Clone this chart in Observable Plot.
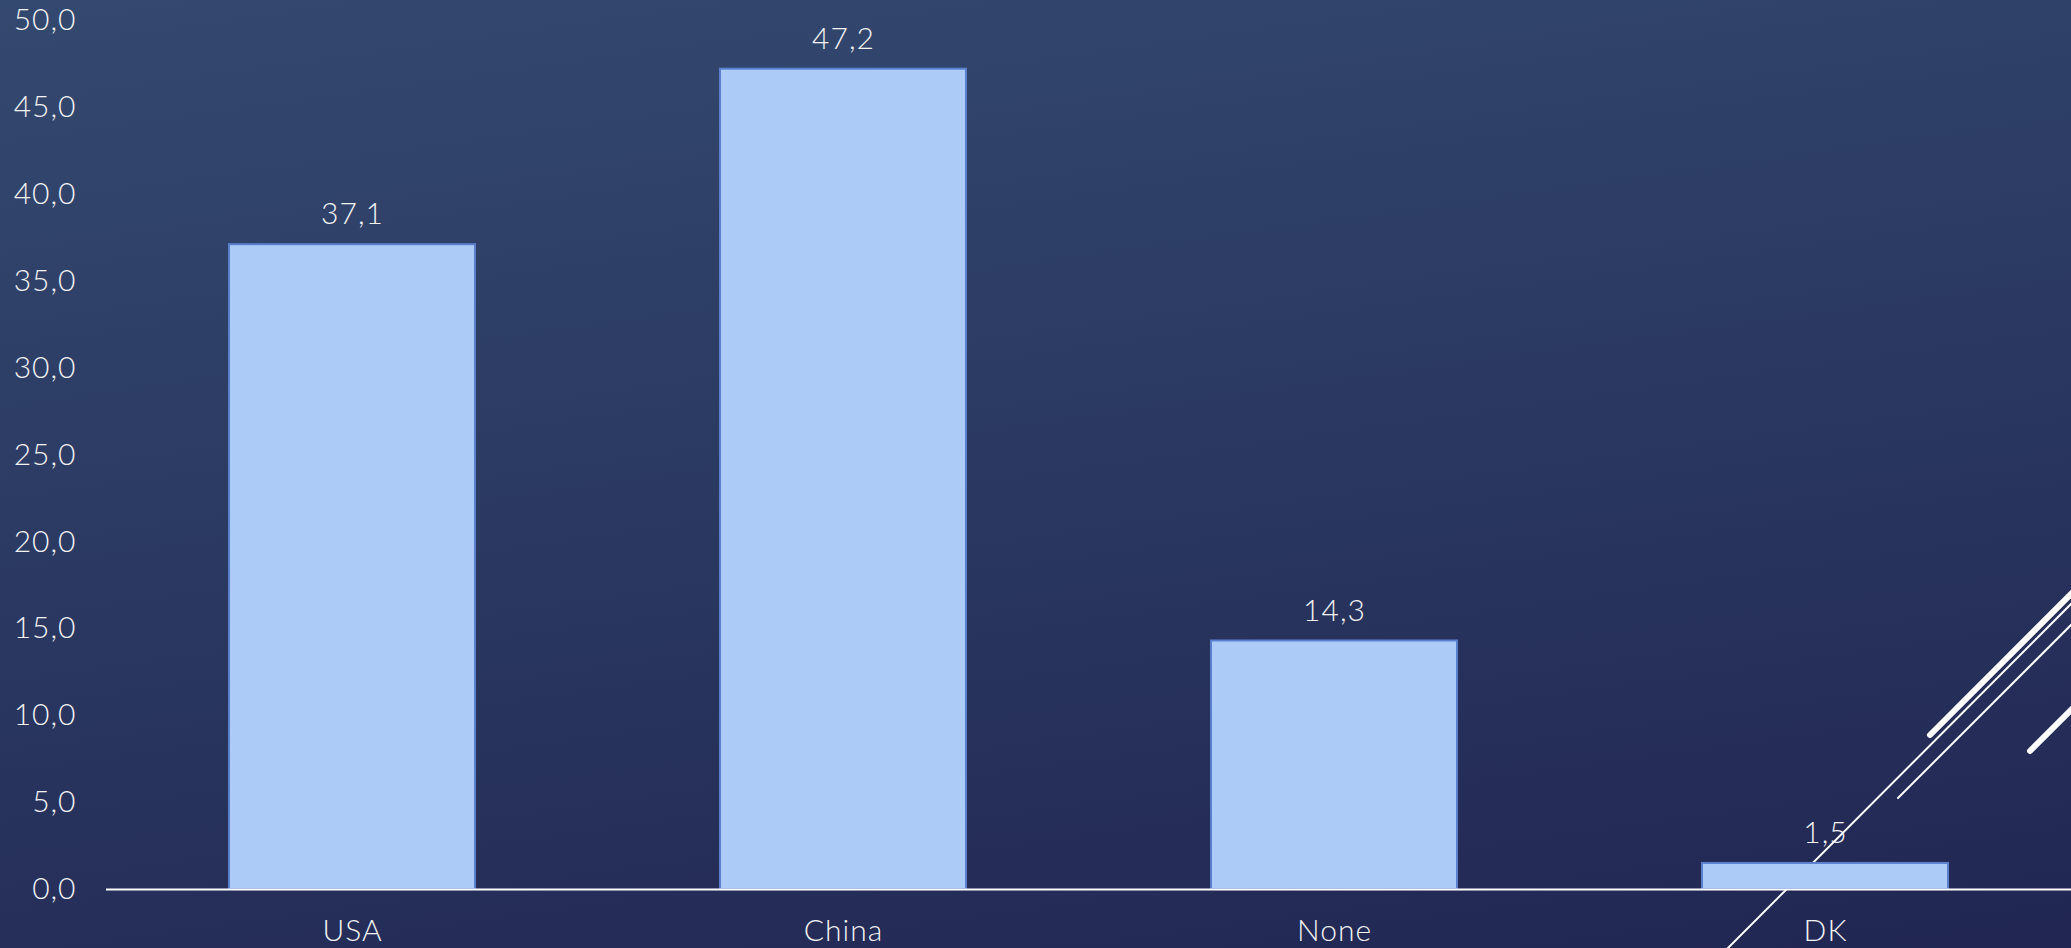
<!DOCTYPE html>
<html>
<head>
<meta charset="utf-8">
<script src="https://cdn.jsdelivr.net/npm/d3@7"></script>
<script src="https://cdn.jsdelivr.net/npm/@observablehq/plot@0.6"></script>
<style>
  html, body { margin: 0; padding: 0; overflow: hidden; }
  body {
    width: 2071px; height: 948px; position: relative;
    background: linear-gradient(172deg, #34496f 0%, #2b3a63 45%, #212652 100%);
  }
  #decor { position: absolute; left: 0; top: 0; z-index: 0; }
  #chart { position: absolute; left: 0; top: 0; z-index: 1; }
  #chart text { letter-spacing: 1px; }
</style>
</head>
<body>
<svg id="decor" width="2071" height="948" viewBox="0 0 2071 948">
  <g stroke="#ffffff" fill="none" stroke-linecap="round">
    <line x1="1930" y1="735" x2="2085" y2="580" stroke-width="6"/>
    <line x1="1726" y1="950" x2="2085" y2="590" stroke-width="2"/>
    <line x1="1898" y1="798" x2="2085" y2="611" stroke-width="2"/>
    <line x1="2030" y1="751" x2="2085" y2="696" stroke-width="6"/>
  </g>
</svg>
<div id="chart"></div>
<script>
const categories = ["USA", "China", "None", "DK"];
const values = [37.1, 47.2, 14.3, 1.5];
const yTicks = [0, 5, 10, 15, 20, 25, 30, 35, 40, 45, 50];

const data = categories.map((c, i) => ({category: c, value: values[i]}));
const fmt = v => d3.format(".1f")(v).replace(".", ",");

const chart = Plot.plot({
  width: 2071,
  height: 948,
  marginLeft: 106,
  marginRight: 0,
  marginTop: 20,
  marginBottom: 59,
  style: {
    background: "transparent",
    color: "#F2F2F2",
    fontSize: "30px",
    fontWeight: 300,
    fontFamily: "Lato, 'Open Sans', sans-serif"
  },
  x: {domain: categories, paddingInner: 0.5, paddingOuter: 0.25, label: null},
  y: {domain: [0, 50], label: null},
  marks: [
    Plot.barY(data, {x: "category", y: "value", fill: "#ADCBF7", stroke: "#5A7FCC", strokeWidth: 2}),
    Plot.ruleY([0], {stroke: "#FFFFFF", strokeWidth: 2}),
    Plot.text(data, {x: "category", y: "value", text: d => fmt(d.value), dy: -30, fill: "#F2F2F2", fontSize: 30, fontWeight: 300}),
    Plot.axisY({ticks: yTicks, tickFormat: fmt, tickSize: 0, tickPadding: 30, label: null, fontSize: 30}),
    Plot.axisX({tickSize: 0, tickPadding: 30, label: null, fontSize: 30})
  ]
});
document.getElementById("chart").appendChild(chart);
</script>
</body>
</html>
